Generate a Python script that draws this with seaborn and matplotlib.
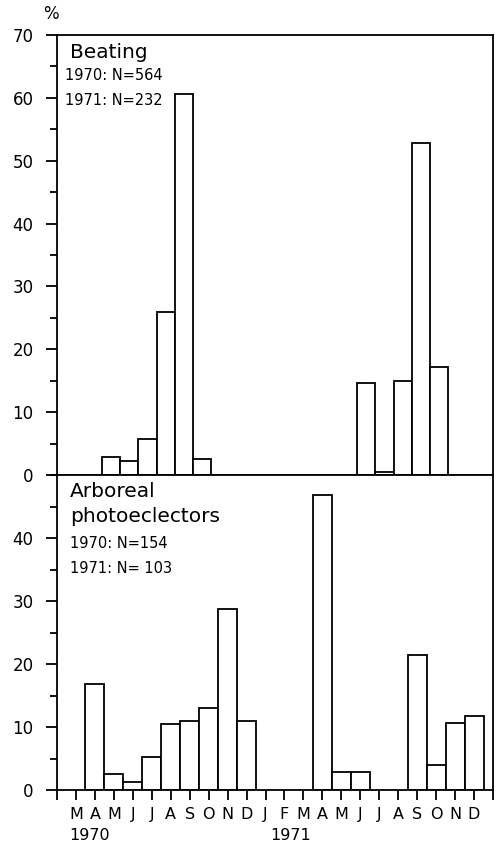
import numpy as np
import pandas as pd
import matplotlib
matplotlib.use("Agg")
import matplotlib.pyplot as plt
import seaborn as sns
from matplotlib.ticker import MultipleLocator

# month axis: March 1970 .. December 1971
month_labels = ["M", "A", "M", "J", "J", "A", "S", "O", "N", "D",
                "J", "F", "M", "A", "M", "J", "J", "A", "S", "O", "N", "D"]
month_keys = [str(p) for p in pd.period_range("1970-03", "1971-12", freq="M")]

# Beating (upper panel), % per month
beating_months = ["1970-05", "1970-06", "1970-07", "1970-08", "1970-09", "1970-10",
                  "1971-07", "1971-08", "1971-09", "1971-10", "1971-11"]
beating_pct = [2.8, 2.3, 5.7, 25.9, 60.6, 2.5,
               14.6, 0.5, 15.0, 52.8, 17.2]

# Arboreal photoeclectors (lower panel), % per month
photo_months = ["1970-04", "1970-05", "1970-06", "1970-07", "1970-08", "1970-09",
                "1970-10", "1970-11", "1970-12",
                "1971-04", "1971-05", "1971-06", "1971-09", "1971-10", "1971-11", "1971-12"]
photo_pct = [16.9, 2.6, 1.2, 5.2, 10.4, 11.0, 13.0, 28.8, 11.0,
             46.9, 2.9, 2.9, 21.5, 3.9, 10.7, 11.7]

sns.set_style("ticks")
plt.rcParams["font.family"] = ["DejaVu Sans"]
plt.rcParams["axes.linewidth"] = 1.3
for k in ["text.color", "xtick.color", "ytick.color", "axes.labelcolor", "axes.edgecolor"]:
    plt.rcParams[k] = "black"

W, H = 497, 847
fig = plt.figure(figsize=(W / 100, H / 100), dpi=100)
left = 57 / W
width = 436 / W
ax_top = fig.add_axes([left, 1 - 475 / H, width, 440 / H])
ax_bot = fig.add_axes([left, 1 - 790 / H, width, 315 / H])


def draw(ax, months, pct):
    df = pd.DataFrame({"m": [month_keys.index(k) for k in months], "pct": pct})
    sns.barplot(data=df, x="m", y="pct", native_scale=True, width=1,
                color="white", saturation=1, edgecolor="black", linewidth=1.3,
                errorbar=None, ax=ax)
    ax.set_xlabel("")
    ax.set_ylabel("")
    for s in ax.spines.values():
        s.set_visible(True)
        s.set_color("black")
    ax.yaxis.set_major_locator(MultipleLocator(10))
    ax.yaxis.set_minor_locator(MultipleLocator(5))
    ax.tick_params(axis="y", which="major", length=8, width=1.3, pad=9,
                   labelsize=12, direction="out")
    ax.tick_params(axis="y", which="minor", length=5, width=1.3, direction="out")


draw(ax_top, beating_months, beating_pct)
draw(ax_bot, photo_months, photo_pct)

# upper panel
ax_top.set_ylim(0, 70)
ax_top.set_xlim(-0.96, 22.95)
ax_top.set_xticks([])
ax_top.tick_params(axis="x", which="both", length=0)

# lower panel
ax_bot.set_ylim(0, 50)
ax_bot.set_yticks([0, 10, 20, 30, 40])
ax_bot.yaxis.set_minor_locator(MultipleLocator(5))
ax_bot.set_xlim(-1, 22)
ticks = list(range(-1, 23))
ax_bot.set_xticks(ticks)
ax_bot.set_xticklabels([""] + month_labels + [""])
ax_bot.tick_params(axis="x", which="major", length=7, width=1.3, pad=5,
                   labelsize=11.5, direction="out")
ax_bot.xaxis.set_minor_locator(plt.NullLocator())

# year labels
fig.text(90 / W, 1 - 828 / H, "1970", ha="center", va="top", fontsize=11.5)
fig.text(291 / W, 1 - 828 / H, "1971", ha="center", va="top", fontsize=11.5)

# unit label
fig.text(51 / W, 1 - 14 / H, "%", ha="center", va="center", fontsize=12)

# panel annotations
tx = 13 / 436
ax_top.text(tx, 0.948, "Beating", transform=ax_top.transAxes, fontsize=14.5,
            ha="left", va="baseline")
ax_top.text(tx - 0.012, 0.898, "1970: N=564", transform=ax_top.transAxes,
            fontsize=10.5, ha="left", va="baseline")
ax_top.text(tx - 0.012, 0.841, "1971: N=232", transform=ax_top.transAxes,
            fontsize=10.5, ha="left", va="baseline")

ax_bot.text(tx, 0.930, "Arboreal", transform=ax_bot.transAxes, fontsize=14.5,
            ha="left", va="baseline")
ax_bot.text(tx, 0.851, "photoeclectors", transform=ax_bot.transAxes, fontsize=14.5,
            ha="left", va="baseline")
ax_bot.text(tx, 0.768, "1970: N=154", transform=ax_bot.transAxes,
            fontsize=10.5, ha="left", va="baseline")
ax_bot.text(tx, 0.689, "1971: N= 103", transform=ax_bot.transAxes,
            fontsize=10.5, ha="left", va="baseline")

fig.savefig("out.png", dpi=100, facecolor="white")
